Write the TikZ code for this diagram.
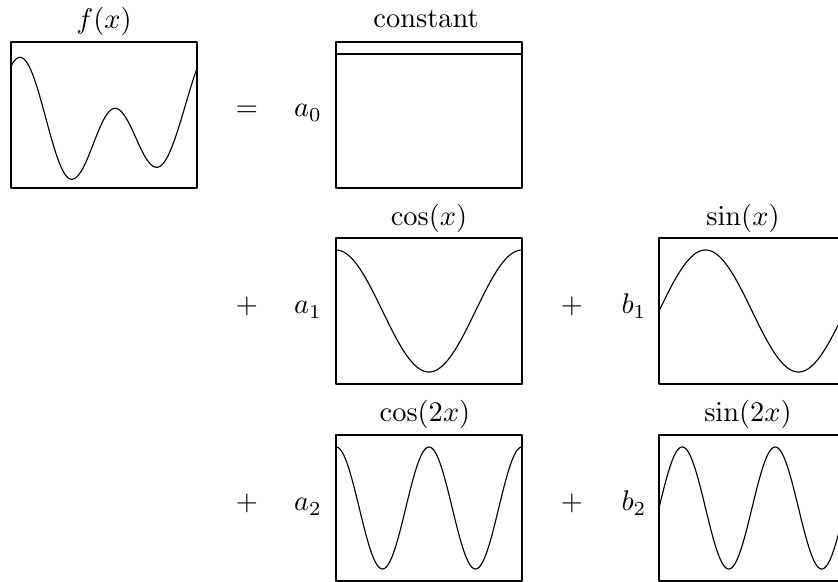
\documentclass[tikz,border=0pt]{standalone}
\usepackage{amsmath}
\usepackage{tikz}

\begin{document}
\begin{tikzpicture}[x=0.352pt, y=-0.352pt, line cap=round, line join=round]

% Dimensioni dei riquadri e ampiezza
\def\w{186}
\def\h{146}
\def\amp{61}

\useasboundingbox (0,0) rectangle (838,582);

% Riquadri (angolo in alto a sinistra)
\coordinate (F)  at (11,42);
\coordinate (A0) at (336,42);
\coordinate (A1) at (336,238);
\coordinate (B1) at (659,238);
\coordinate (A2) at (336,435);
\coordinate (B2) at (659,435);

\draw (F)  rectangle ++(\w,\h);
\draw (A0) rectangle ++(\w,\h);
\draw (A1) rectangle ++(\w,\h);
\draw (B1) rectangle ++(\w,\h);
\draw (A2) rectangle ++(\w,\h);
\draw (B2) rectangle ++(\w,\h);

% Funzione f(x), a tratti tra gli estremi
\draw[samples=60]
    plot[domain=11:71.7]    (\x, {118.3-61*cos(180*(\x-20)/51.7)})
 -- plot[domain=71.7:115]   (\x, {143.8+35.5*cos(180*(\x-71.7)/43.3)})
 -- plot[domain=115:156.7]  (\x, {137.8-29.5*cos(180*(\x-115)/41.7)})
 -- plot[domain=156.7:197]  (\x, {105.8+61.5*cos(180*(\x-156.7)/57)});

% Costante
\draw (336,54) -- (522,54);

% Armoniche
\draw[domain=0:1, samples=120] plot ({336+\w*\x}, {311-\amp*cos(360*\x)});
\draw[domain=0:1, samples=120] plot ({659+\w*\x}, {311-\amp*sin(360*\x)});
\draw[domain=0:1, samples=160] plot ({336+\w*\x}, {508-\amp*cos(720*\x)});
\draw[domain=0:1, samples=160] plot ({659+\w*\x}, {508-\amp*sin(720*\x)});

% Titoli
\node[anchor=base] (tf)  at (104,29)    {$f(x)$};
\node[anchor=base] (ta0) at (426,28)    {constant};
\node[anchor=base] (ta1) at (429,225.5) {$\cos(x)$};
\node[anchor=base] (tb1) at (743,225.5) {$\sin(x)$};
\node[anchor=base] (ta2) at (425,422)   {$\cos(2x)$};
\node[anchor=base] (tb2) at (748,422)   {$\sin(2x)$};

% Segni e coefficienti
\node[anchor=base] (eq) at (247,117) {$=$};
\node[anchor=base] (c0) at (308,117) {$a_0$};
\node[anchor=base] (p1) at (247,314) {$+$};
\node[anchor=base] (c1) at (308,314) {$a_1$};
\node[anchor=base] (q1) at (572,314) {$+$};
\node[anchor=base] (d1) at (634,314) {$b_1$};
\node[anchor=base] (p2) at (247,511) {$+$};
\node[anchor=base] (c2) at (308,511) {$a_2$};
\node[anchor=base] (q2) at (572,511) {$+$};
\node[anchor=base] (d2) at (634,511) {$b_2$};

\end{tikzpicture}
\end{document}
